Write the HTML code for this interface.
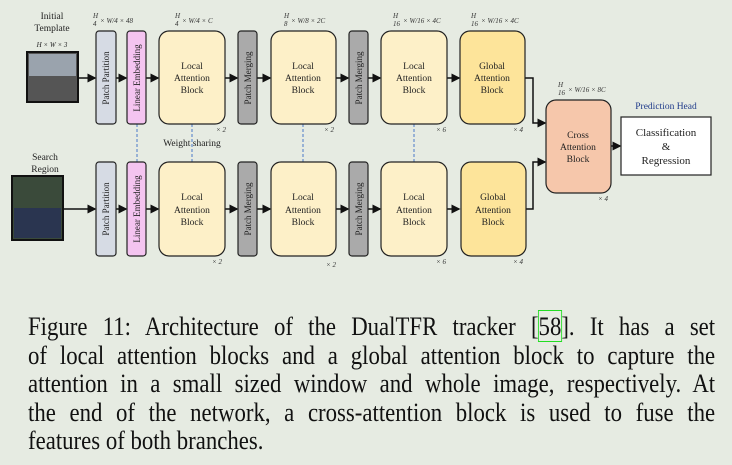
<!DOCTYPE html>
<html><head><meta charset="utf-8"><style>
body{margin:0;width:732px;height:465px;background:#e6ebe2;overflow:hidden;position:relative;font-family:"Liberation Serif",serif}
.cap{position:absolute;left:28px;width:799px;font-size:26.5px;color:#111;line-height:28.5px;top:312px;transform:scaleX(0.86);transform-origin:0 0}
.cap div{text-align:justify;text-align-last:justify;white-space:nowrap;height:28.5px}
.cap div.last{text-align-last:left}
.ref{outline:1px solid #22dd22}
</style></head><body>
<svg width="732" height="300" style="position:absolute;left:0;top:0" font-family="Liberation Serif, serif">
<defs><marker id="a" markerWidth="6" markerHeight="6" refX="5" refY="3" orient="auto"><path d="M0,0L6,3L0,6z" fill="#111"/></marker></defs>
<g font-size="9.5" fill="#222" text-anchor="middle">
<text x="52" y="19">Initial</text><text x="52" y="31">Template</text>
<text x="52" y="47" font-size="7" font-style="italic">H × W × 3</text>
<text x="45" y="160">Search</text><text x="45" y="172">Region</text>
</g>
<rect x="27" y="52" width="51" height="50" fill="#555" stroke="#111" stroke-width="2"/>
<rect x="29" y="54" width="47" height="22" fill="#9aa3ad"/>
<rect x="12" y="176" width="51" height="64" fill="#3a4a3a" stroke="#111" stroke-width="2"/>
<rect x="14" y="208" width="47" height="30" fill="#2a3550"/>
<g stroke="#111" stroke-width="1.5" fill="none" marker-end="url(#a)">
<path d="M78,78H95"/><path d="M116,78H126"/><path d="M146,78H158"/><path d="M225,78H237"/><path d="M257,78H270"/><path d="M336,78H348"/><path d="M368,78H380"/><path d="M447,78H459"/>
<path d="M63,209H95"/><path d="M116,209H126"/><path d="M146,209H158"/><path d="M225,209H237"/><path d="M257,209H270"/><path d="M336,209H348"/><path d="M368,209H380"/><path d="M447,209H459"/>
<path d="M525,78H533V123H545"/><path d="M525,209H533V162H545"/><path d="M611,146H620"/>
</g>
<g stroke="#4a78c8" stroke-width="1" stroke-dasharray="3,2">
<path d="M137,124V162M192,124V162M303,124V162M414,124V162"/></g>
<g stroke="#222" stroke-width="1.2">
<rect x="96" y="31" width="20" height="93" rx="3" fill="#d6dbe4"/><rect x="96" y="162" width="20" height="94" rx="3" fill="#d6dbe4"/>
<rect x="127" y="31" width="19" height="93" rx="3" fill="#f4c4f0"/><rect x="127" y="162" width="19" height="94" rx="3" fill="#f4c4f0"/>
<rect x="238" y="31" width="19" height="93" rx="3" fill="#aaa"/><rect x="238" y="162" width="19" height="94" rx="3" fill="#aaa"/>
<rect x="349" y="31" width="19" height="93" rx="3" fill="#aaa"/><rect x="349" y="162" width="19" height="94" rx="3" fill="#aaa"/>
<rect x="159" y="31" width="66" height="93" rx="10" fill="#fdf0c8"/><rect x="159" y="162" width="66" height="94" rx="10" fill="#fdf0c8"/>
<rect x="271" y="31" width="65" height="93" rx="10" fill="#fdf0c8"/><rect x="271" y="162" width="65" height="94" rx="10" fill="#fdf0c8"/>
<rect x="381" y="31" width="66" height="93" rx="10" fill="#fdf0c8"/><rect x="381" y="162" width="66" height="94" rx="10" fill="#fdf0c8"/>
<rect x="460" y="31" width="65" height="93" rx="10" fill="#fde49a"/><rect x="461" y="162" width="65" height="94" rx="10" fill="#fde49a"/>
<rect x="546" y="100" width="65" height="93" rx="10" fill="#f6c7ab"/>
<rect x="621" y="117" width="90" height="58" fill="#fff"/>
</g>
<g font-size="9.5" fill="#222" text-anchor="middle">
<g font-size="9"><text transform="translate(109,78) rotate(-90)">Patch Partition</text><text transform="translate(109,209) rotate(-90)">Patch Partition</text>
<text transform="translate(140,78) rotate(-90)">Linear Embedding</text><text transform="translate(140,209) rotate(-90)">Linear Embedding</text>
<text transform="translate(251,78) rotate(-90)">Patch Merging</text><text transform="translate(251,209) rotate(-90)">Patch Merging</text>
<text transform="translate(362,78) rotate(-90)">Patch Merging</text><text transform="translate(362,209) rotate(-90)">Patch Merging</text></g>
<text x="192" y="69">Local</text><text x="192" y="81">Attention</text><text x="192" y="93">Block</text>
<text x="303" y="69">Local</text><text x="303" y="81">Attention</text><text x="303" y="93">Block</text>
<text x="414" y="69">Local</text><text x="414" y="81">Attention</text><text x="414" y="93">Block</text>
<text x="492" y="69">Global</text><text x="492" y="81">Attention</text><text x="492" y="93">Block</text>
<text x="192" y="200">Local</text><text x="192" y="213">Attention</text><text x="192" y="225">Block</text>
<text x="303" y="200">Local</text><text x="303" y="213">Attention</text><text x="303" y="225">Block</text>
<text x="414" y="200">Local</text><text x="414" y="213">Attention</text><text x="414" y="225">Block</text>
<text x="493" y="200">Global</text><text x="493" y="213">Attention</text><text x="493" y="225">Block</text>
<text x="578" y="138">Cross</text><text x="578" y="150">Attention</text><text x="578" y="162">Block</text>
<text x="666" y="136" font-size="11">Classification</text><text x="666" y="150" font-size="11">&amp;</text><text x="666" y="164" font-size="11">Regression</text>
<text x="666" y="109" fill="#1f3a8a" font-size="9.5">Prediction Head</text>
<text x="192" y="146">Weight sharing</text>
</g>
<g font-size="7" fill="#333" font-style="italic">
<text x="216" y="132">× 2</text><text x="324" y="132">× 2</text><text x="436" y="132">× 6</text><text x="513" y="132">× 4</text><text x="598" y="201">× 4</text>
<text x="212" y="264">× 2</text><text x="326" y="267">× 2</text><text x="436" y="264">× 6</text><text x="513" y="264">× 4</text>
<text x="93" y="18">H</text><text x="93" y="26">4</text><text x="100" y="23">× W/4 × 48</text>
<text x="175" y="18">H</text><text x="175" y="26">4</text><text x="182" y="23">× W/4 × C</text>
<text x="284" y="18">H</text><text x="284" y="26">8</text><text x="291" y="23">× W/8 × 2C</text>
<text x="393" y="18">H</text><text x="393" y="26">16</text><text x="403" y="23">× W/16 × 4C</text>
<text x="471" y="18">H</text><text x="471" y="26">16</text><text x="481" y="23">× W/16 × 4C</text>
<text x="558" y="87">H</text><text x="558" y="95">16</text><text x="568" y="92">× W/16 × 8C</text>
</g>
</svg>
<div class="cap">
<div>Figure 11: Architecture of the DualTFR tracker [<span class="ref">58</span>]. It has a set</div>
<div>of local attention blocks and a global attention block to capture the</div>
<div>attention in a small sized window and whole image, respectively. At</div>
<div>the end of the network, a cross-attention block is used to fuse the</div>
<div class="last">features of both branches.</div>
</div>
</body></html>
